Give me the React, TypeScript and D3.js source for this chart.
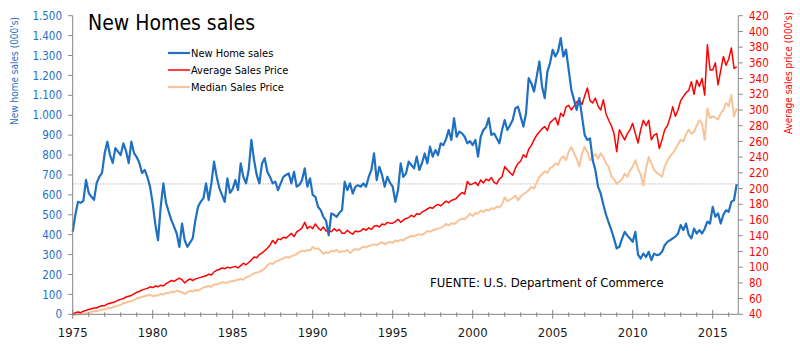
import React from 'react';
import * as d3 from 'd3';

// series are sampled every 2 months, starting January 1975
const startYear = 1975;
const perYear = 6;

// new home sales, thousands (SAAR)
const newHomeSales = [
  414, 500, 565, 560, 570, 675, // 1975
  610, 590, 575, 660, 690, 710, // 1976
  810, 867, 800, 760, 835, 817, // 1977
  800, 859, 820, 760, 867, 810, // 1978
  790, 760, 710, 725, 690, 641, // 1979
  557, 450, 372, 540, 658, 560, // 1980
  515, 473, 440, 406, 339, 456, // 1981
  372, 339, 360, 381, 473, 540, // 1982
  565, 582, 658, 574, 658, 767, // 1983
  691, 633, 600, 565, 683, 610, // 1984
  630, 674, 624, 758, 690, 658, // 1985
  725, 876, 775, 700, 658, 758, // 1986
  784, 716, 690, 658, 666, 624, // 1987
  658, 690, 700, 708, 658, 716, // 1988
  641, 650, 674, 733, 641, 683, // 1989
  600, 590, 540, 523, 490, 470, // 1990
  398, 507, 500, 490, 510, 523, // 1991
  666, 624, 658, 607, 640, 649, // 1992
  641, 658, 641, 690, 725, 808, // 1993
  674, 741, 700, 641, 691, 660, // 1994
  641, 565, 624, 758, 690, 708, // 1995
  767, 750, 733, 792, 725, 760, // 1996
  808, 758, 842, 792, 825, 800, // 1997
  859, 850, 880, 926, 876, 985, // 1998
  892, 918, 909, 892, 859, 870, // 1999
  850, 876, 792, 892, 926, 940, // 2000
  985, 901, 909, 884, 859, 926, // 2001
  976, 926, 950, 976, 1035, 1043, // 2002
  993, 943, 1010, 1186, 1161, 1119, // 2003
  1194, 1270, 1144, 1086, 1219, 1262, // 2004
  1329, 1295, 1320, 1387, 1295, 1329, // 2005
  1228, 1127, 1077, 1027, 1086, 993, // 2006
  900, 876, 884, 775, 725, 641, // 2007
  607, 550, 500, 460, 423, 380, // 2008
  331, 339, 380, 414, 395, 381, // 2009
  364, 414, 300, 280, 305, 288, // 2010
  314, 272, 305, 297, 300, 314, // 2011
  347, 364, 372, 381, 390, 406, // 2012
  448, 423, 456, 400, 381, 431, // 2013
  406, 423, 406, 430, 465, 456, // 2014
  540, 490, 507, 456, 500, 523, // 2015
  515, 565, 574, 654, // 2016
];

// average sales price, thousands of dollars
const averagePrice = [
  40, 42, 43, 42, 44, 45,
  46, 47, 48, 48, 50, 51,
  51, 53, 54, 55, 56, 58,
  59, 60, 62, 63, 64, 66,
  68, 69, 71, 72, 73, 75,
  74, 76, 75, 77, 76, 79,
  81, 83, 82, 84, 86, 84,
  80, 83, 85, 83, 85, 86,
  87, 88, 89, 91, 90, 94,
  96, 97, 99, 98, 100, 99,
  100, 101, 99, 102, 105, 103,
  106, 109, 113, 112, 116, 118,
  121, 124, 128, 134, 130, 136,
  135, 138, 137, 140, 143, 139,
  145, 147, 150, 157, 149, 152,
  149, 155, 150, 147, 151, 146,
  147, 145, 149, 146, 148, 143,
  143, 147, 144, 142, 146, 145,
  146, 149, 147, 150, 148, 152,
  153, 151, 155, 154, 157, 156,
  156, 158, 161, 157, 160, 162,
  163, 166, 164, 168, 167, 170,
  172, 174, 176, 175, 178, 180,
  178, 181, 184, 182, 185, 186,
  188, 192, 195, 193, 209, 205,
  206, 208, 204, 211, 207, 212,
  210, 214, 208, 206, 212, 215,
  228, 224, 220, 217, 226, 232,
  235, 243, 240, 250, 255, 262,
  268, 272, 276, 279, 274, 284,
  287, 290, 281, 296, 292, 304,
  306, 300, 305, 310, 313, 307,
  318, 328, 312, 309, 315, 305,
  300, 313, 295, 287, 280, 270,
  247, 275, 268, 262, 270, 275,
  283, 270, 258, 275, 287, 280,
  287, 262, 268, 270, 251, 262,
  275, 280, 290, 304, 292, 300,
  312, 317, 322, 325, 336, 320,
  338, 330, 340, 319, 383, 351,
  351, 360, 332, 350, 368, 357,
  365, 379, 353, 355,
];

// median sales price, thousands of dollars
const medianPrice = [
  39, 39, 40, 40, 41, 41,
  42, 43, 44, 44, 45, 46,
  46, 48, 48, 49, 50, 51,
  52, 54, 55, 56, 57, 58,
  60, 61, 62, 63, 64, 65,
  63, 64, 64, 66, 65, 67,
  67, 69, 68, 70, 69, 68,
  66, 68, 70, 69, 71, 70,
  72, 74, 75, 76, 75, 78,
  78, 79, 81, 80, 80, 82,
  82, 83, 84, 85, 84, 87,
  88, 90, 92, 93, 94, 96,
  98, 102, 105, 104, 107, 108,
  110, 111, 113, 112, 114, 115,
  117, 119, 121, 120, 122, 121,
  126, 123, 124, 121, 117, 119,
  118, 121, 120, 122, 119, 120,
  120, 122, 118, 121, 123, 122,
  124, 126, 125, 127, 128, 129,
  128, 130, 132, 129, 131, 132,
  131, 134, 133, 135, 134, 137,
  138, 140, 139, 141, 142, 141,
  143, 146, 145, 147, 148, 149,
  150, 152, 155, 153, 156, 155,
  157, 160, 162, 161, 164, 168,
  165, 169, 168, 172, 170, 173,
  172, 175, 174, 177, 176, 180,
  189, 184, 186, 188, 191, 185,
  190, 193, 195, 198, 202, 200,
  208, 215, 218, 222, 220, 226,
  228, 232, 230, 238, 241, 236,
  247, 253, 245, 238, 228, 245,
  253, 247, 236, 240, 244, 238,
  245, 240, 232, 228, 215, 212,
  206, 209, 212, 219, 215, 223,
  228, 236, 225, 218, 204, 226,
  240, 232, 224, 220, 218, 215,
  228, 235, 241, 245, 250, 256,
  262, 260, 269, 275, 270, 272,
  280, 287, 283, 262, 302, 290,
  292, 290, 288, 296, 300, 309,
  305, 319, 292, 302,
];

const salesTicks = d3.range(0, 1501, 100);
const priceTicks = d3.range(40, 421, 20);
const yearTicks = d3.range(1975, 2017, 1);
const refSales = 655;

const legendItems = [
  { label: 'New Home sales', color: '#1F70C1', width: 2.2 },
  { label: 'Average Sales Price', color: '#FF0000', width: 1.5 },
  { label: 'Median Sales Price', color: '#F7C49A', width: 2.2 },
];

const font = "'DejaVu Sans Condensed', 'DejaVu Sans', sans-serif";

const App = () => {
  const width = 800;
  const height = 351;
  const left = 72.7;
  const right = 738.3;
  const top = 15.7;
  const bottom = 314.3;

  const x = d3.scaleLinear().domain([1975, 2016.6]).range([left, right]);
  const ySales = d3.scaleLinear().domain([0, 1500]).range([bottom, top]);
  const yPrice = d3.scaleLinear().domain([40, 420]).range([bottom, top]);

  const dateOf = (i: number) => startYear + i / perYear;
  const salesLine = d3.line<number>().x((d, i) => x(dateOf(i))).y((d) => ySales(d));
  const priceLine = d3.line<number>().x((d, i) => x(dateOf(i))).y((d) => yPrice(d));

  const fmt = (v: number) => d3.format(',')(v).replace(/,/g, '.');

  return (
    <svg width={width} height={height} style={{ position: 'absolute', left: 0, top: 0, background: '#fff' }}
      fontFamily={font}>
      {/* title */}
      <text x={88} y={30} fontSize={21} fill="#000">New Homes sales</text>

      {/* reference line */}
      <line x1={left} x2={right} y1={ySales(refSales)} y2={ySales(refSales)}
        stroke="#8c8c8c" strokeWidth={0.8} strokeDasharray="1,1.5" />

      {/* series */}
      <path d={priceLine(medianPrice) || ''} fill="none" stroke="#F7C49A" strokeWidth={2} strokeLinejoin="round" />
      <path d={priceLine(averagePrice) || ''} fill="none" stroke="#FF0000" strokeWidth={1.5} strokeLinejoin="round" />
      <path d={salesLine(newHomeSales) || ''} fill="none" stroke="#1F70C1" strokeWidth={2.2} strokeLinejoin="round" />

      {/* axes lines */}
      <line x1={left} x2={left} y1={top} y2={bottom} stroke="#868686" />
      <line x1={right} x2={right} y1={top} y2={bottom} stroke="#868686" />
      <line x1={left} x2={right} y1={bottom} y2={bottom} stroke="#868686" />

      {/* left axis */}
      {salesTicks.map((t) => (
        <g key={'s' + t}>
          <line x1={left - 4.5} x2={left} y1={ySales(t)} y2={ySales(t)} stroke="#868686" />
          <text x={62} y={ySales(t)} dy="0.36em" textAnchor="end" fontSize={11.5} fill="#1F70C1">{fmt(t)}</text>
        </g>
      ))}

      {/* right axis */}
      {priceTicks.map((t) => (
        <g key={'p' + t}>
          <line x1={right} x2={right + 4.5} y1={yPrice(t)} y2={yPrice(t)} stroke="#868686" />
          <text x={749} y={yPrice(t)} dy="0.36em" textAnchor="start" fontSize={11.5} fill="#FF0000">{t}</text>
        </g>
      ))}

      {/* x axis */}
      {yearTicks.map((yr) => {
        const major = yr % 5 === 0;
        return (
          <g key={'x' + yr}>
            <line x1={x(yr)} x2={x(yr)} y1={major ? bottom - 4.5 : bottom - 2} y2={major ? bottom + 4.5 : bottom + 2.5}
              stroke="#868686" />
            {major && (
              <text x={x(yr)} y={337} textAnchor="middle" fontSize={13} fill="#1a1a1a">{yr}</text>
            )}
          </g>
        );
      })}

      {/* axis titles */}
      <text transform="translate(18,71) rotate(-90)" textAnchor="middle" fontSize={10} fill="#1F70C1">
        New home sales  (000's)
      </text>
      <text transform="translate(792,73) rotate(-90)" textAnchor="middle" fontSize={10} fill="#FF0000">
        Average sales price (000's)
      </text>

      {/* legend */}
      {legendItems.map((d, i) => (
        <g key={d.label} transform={`translate(168,${53 + i * 17})`}>
          <line x1={0} x2={22} y1={0} y2={0} stroke={d.color} strokeWidth={d.width} />
          <text x={23} y={0} dy="0.35em" fontSize={11} fill="#000">{d.label}</text>
        </g>
      ))}

      {/* source */}
      <text x={430} y={287} fontSize={13} fill="#000">FUENTE: U.S. Department of Commerce</text>
    </svg>
  );
};

export default App;
